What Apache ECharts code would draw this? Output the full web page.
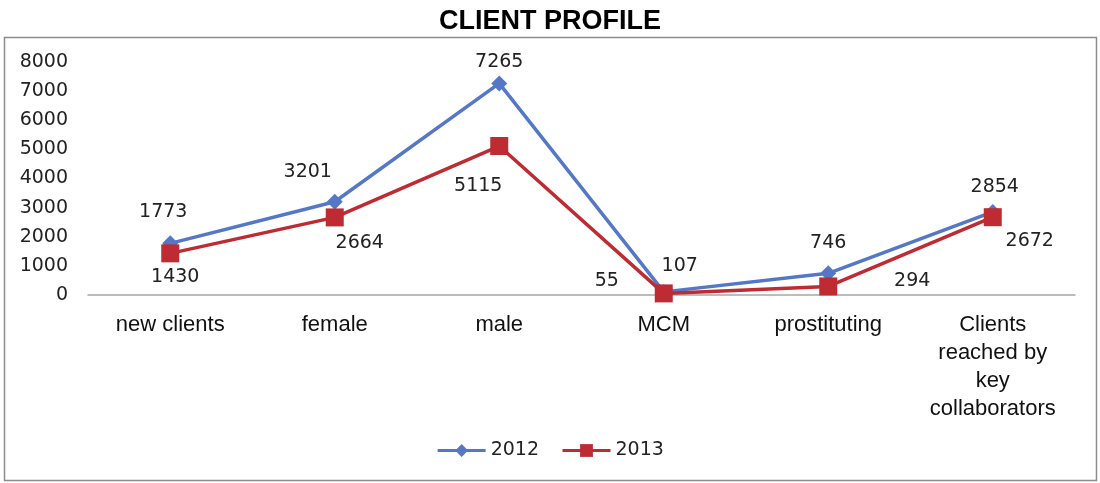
<!DOCTYPE html>
<html>
<head>
<meta charset="utf-8">
<script src="https://cdn.jsdelivr.net/npm/echarts@6/dist/echarts.min.js"></script>
<style>
  html, body { margin: 0; padding: 0; background: #fff; }
  #main { width: 1100px; height: 483px; }
</style>
</head>
<body>
<div id="main"></div>
<script>
// data
var categories = ['new clients', 'female', 'male', 'MCM', 'prostituting', 'Clients\nreached by\nkey\ncollaborators'];
var values2012 = [1773, 3201, 7265, 107, 746, 2854];
var values2013 = [1430, 2664, 5115, 55, 294, 2672];
// label spots for each point (above / below etc)
var pos2012 = [[-7, -31], [-27, -30], [0, -21], [16, -26], [0, -30], [2, -25]];
var pos2013 = [[5, 24], [25, 26], [-21, 40], [-57, -12], [84, -5], [37, 24]];

function build(vals, offs) {
  var out = [];
  for (var i = 0; i < vals.length; i++) {
    out.push({ value: vals[i], label: { offset: offs[i] } });
  }
  return out;
}

var labelStyle = {
  show: true,
  position: 'inside',
  color: '#222',
  fontFamily: 'DejaVu Sans',
  fontSize: 19
};

var chart = echarts.init(document.getElementById('main'));
chart.setOption({
  animation: false,
  title: {
    text: 'CLIENT PROFILE',
    left: 'center',
    top: 3,
    textStyle: { fontFamily: 'Liberation Sans', fontWeight: 'bold', fontSize: 27, color: '#000' }
  },
  graphic: [{
    type: 'rect',
    shape: { x: 4.5, y: 37.5, width: 1092, height: 443 },
    style: { fill: null, stroke: '#8c8c8c', lineWidth: 1.5 },
    z: -1
  }],
  legend: {
    bottom: 18,
    left: 'center',
    itemWidth: 48,
    itemHeight: 16,
    itemGap: 22,
    lineStyle: { width: 3 },
    textStyle: { fontFamily: 'DejaVu Sans', fontSize: 19, color: '#222' },
    data: ['2012', '2013']
  },
  grid: { left: 88, right: 25, top: 62, bottom: 188 },
  xAxis: {
    type: 'category',
    data: categories,
    boundaryGap: true,
    axisLine: { lineStyle: { color: '#a6a6a6', width: 1.5 } },
    axisTick: { show: false },
    axisLabel: {
      interval: 0,
      margin: 16,
      color: '#111',
      fontFamily: 'Liberation Sans',
      fontSize: 22,
      lineHeight: 28
    }
  },
  yAxis: {
    type: 'value',
    min: 0,
    max: 8000,
    interval: 1000,
    splitLine: { show: false },
    axisLine: { show: false },
    axisTick: { show: false },
    axisLabel: {
      margin: 20,
      color: '#222',
      fontFamily: 'DejaVu Sans',
      fontSize: 19,
      formatter: function (v) { return String(v); }
    }
  },
  series: [{
    name: '2012',
    type: 'line',
    data: build(values2012, pos2012),
    symbol: 'diamond',
    symbolSize: 16,
    itemStyle: { color: '#5478c6' },
    lineStyle: { width: 3.5, color: '#5478c6' },
    label: labelStyle,
    z: 3
  }, {
    name: '2013',
    type: 'line',
    data: build(values2013, pos2013),
    symbol: 'rect',
    symbolSize: 18,
    itemStyle: { color: '#be2b33' },
    lineStyle: { width: 3.5, color: '#be2b33' },
    label: labelStyle,
    z: 4
  }]
});
</script>
</body>
</html>
